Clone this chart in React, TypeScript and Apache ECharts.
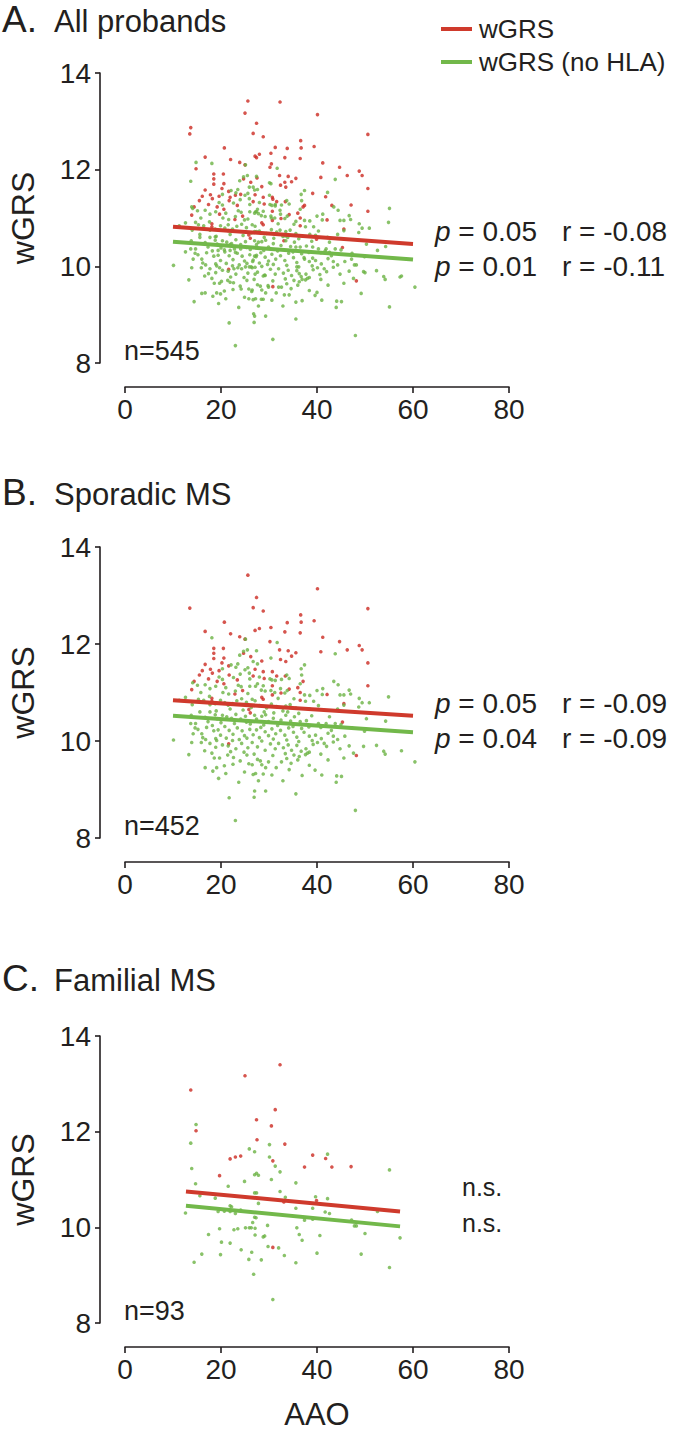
import React, { useEffect, useRef } from "react";
import * as echarts from "echarts";

// ---------- DATA ----------
const panelTitles = ["All probands", "Sporadic MS", "Familial MS"];
const panelLetters = ["A.", "B.", "C."];
const panelN = ["n=545", "n=452", "n=93"];
const seriesNames = ["wGRS", "wGRS (no HLA)"];
const xTicks = [0, 20, 40, 60, 80];
const yTicks = [8, 10, 12, 14];
const statsA = [["0.05", "-0.08"], ["0.01", "-0.11"]];
const statsB = [["0.05", "-0.09"], ["0.04", "-0.09"]];

// Sporadic MS probands: visible wGRS (red) and wGRS no-HLA (green) points [AAO, score]
const sporadicRed: number[][] = [
  [25.6, 13.42], [40.1, 13.14], [13.5, 12.74], [27.4, 12.96], [26.7, 12.75], [28.8, 12.68], [50.6, 12.73],
  [36.6, 12.6], [36.7, 12.45], [39.4, 12.48], [20.7, 12.45], [33.8, 12.44], [30.4, 12.34], [27.1, 12.28],
  [28.0, 12.32], [16.7, 12.26], [22.0, 12.21], [23.9, 12.15], [25.0, 12.1], [33.3, 12.25], [36.5, 12.23],
  [41.2, 12.14], [44.7, 12.05], [30.2, 12.05], [46.3, 11.88], [48.8, 11.97], [49.4, 11.88], [40.8, 11.84],
  [50.6, 11.61], [50.6, 11.14], [18.5, 11.91], [20.5, 11.91], [18.5, 11.81], [18.5, 11.7], [20.6, 11.71],
  [24.7, 11.81], [26.2, 11.74], [28.5, 11.65], [32.2, 11.88], [34.0, 11.86], [35.6, 11.82], [32.4, 11.68],
  [33.5, 11.64], [34.7, 11.75], [20.2, 11.61], [16.7, 11.58], [16.1, 11.45], [15.5, 11.36], [17.8, 11.48],
  [18.2, 11.4], [19.6, 11.45], [21.6, 11.55], [21.7, 11.36], [23.4, 11.26], [14.4, 11.23], [13.9, 11.06],
  [17.4, 11.28], [19.2, 11.23], [20.6, 11.18], [26.7, 11.34], [27.1, 11.48], [28.8, 11.43], [30.7, 11.43],
  [29.0, 11.29], [30.7, 11.14], [31.6, 11.34], [33.4, 11.34], [34.2, 11.07], [36.0, 11.1], [37.1, 11.23],
  [36.5, 11.0], [36.5, 10.84], [28.5, 10.9], [28.8, 10.86], [30.7, 10.95], [32.5, 10.99], [24.5, 11.04],
  [22.9, 10.97], [18.1, 10.88], [18.1, 10.82], [25.8, 10.65], [26.1, 10.58], [42.1, 10.96], [45.6, 10.77],
  [45.3, 10.39], [21.6, 9.94], [48.2, 9.7],
];

const sporadicGreen: number[][] = [
  [18.1, 12.13], [25.1, 12.1], [31.7, 12.03], [43.8, 11.8], [25.5, 11.88], [24.7, 11.85], [27.4, 11.86],
  [23.9, 11.77], [23.5, 11.59], [26.7, 11.64], [27.6, 11.59], [30.4, 11.71], [36.7, 11.49], [37.4, 11.57],
  [23.1, 11.52], [25.0, 11.47], [25.6, 11.51], [25.9, 11.4], [20.3, 11.49], [22.1, 11.57], [19.6, 11.32],
  [20.3, 11.27], [22.6, 11.31], [24.0, 11.38], [26.0, 11.28], [28.0, 11.32], [30.2, 11.28], [30.6, 11.26],
  [31.3, 11.25], [32.6, 11.27], [33.7, 11.36], [34.2, 11.29], [36.8, 11.36], [36.5, 11.18], [16.7, 11.16],
  [14.1, 11.2], [15.1, 11.15], [17.7, 11.08], [18.9, 11.13], [21.0, 11.1], [21.6, 10.97], [23.6, 11.15],
  [24.2, 11.12], [26.0, 11.13], [27.2, 11.13], [27.6, 11.18], [28.8, 11.14], [29.2, 11.03], [30.4, 11.04],
  [31.2, 11.0], [32.4, 11.08], [33.3, 10.99], [33.8, 11.04], [37.4, 10.95], [38.5, 10.94], [40.0, 11.04],
  [41.2, 11.08], [41.1, 10.96], [43.5, 11.23], [44.4, 11.16], [44.8, 10.95], [45.6, 10.95], [46.7, 11.05],
  [47.0, 10.97], [48.8, 10.88], [49.4, 10.79], [50.9, 10.79], [54.9, 10.91], [54.3, 10.41], [48.7, 10.7],
  [50.3, 10.46], [45.6, 10.74], [44.3, 10.66], [40.3, 10.73], [38.5, 10.66], [37.6, 10.82], [35.6, 10.68],
  [34.4, 10.75], [33.5, 10.72], [32.9, 10.62], [31.6, 10.71], [30.5, 10.76], [29.5, 10.68], [28.0, 10.73],
  [27.1, 10.83], [26.5, 10.86], [25.3, 10.8], [24.3, 10.87], [23.3, 10.83], [22.4, 10.77], [21.5, 10.74],
  [20.8, 10.79], [19.9, 10.84], [18.8, 10.77], [17.6, 10.92], [17.7, 10.75], [16.4, 10.84], [15.3, 10.86],
  [14.0, 10.75], [12.6, 10.9], [11.3, 10.84], [13.8, 10.53], [13.7, 10.36], [14.6, 10.27], [15.6, 10.6],
  [16.7, 10.49], [17.7, 10.6], [18.8, 10.54], [19.2, 10.46], [20.3, 10.53], [21.2, 10.5], [22.2, 10.47],
  [23.1, 10.55], [24.1, 10.45], [25.1, 10.51], [25.3, 10.39], [27.0, 10.53], [27.4, 10.45], [28.5, 10.51],
  [29.3, 10.54], [29.9, 10.4], [30.9, 10.47], [32.5, 10.43], [33.5, 10.53], [34.5, 10.41], [35.3, 10.5],
  [36.5, 10.4], [37.8, 10.42], [40.3, 10.36], [40.8, 10.28], [41.9, 10.36], [43.8, 10.36], [45.0, 10.34],
  [49.9, 10.2], [14.7, 10.36], [15.2, 10.24], [16.0, 10.15], [17.0, 10.28], [18.2, 10.32], [18.5, 10.21],
  [19.4, 10.23], [19.9, 10.12], [20.8, 10.3], [21.7, 10.22], [22.5, 10.14], [23.4, 10.27], [24.4, 10.21],
  [24.9, 10.11], [26.0, 10.24], [26.7, 10.13], [27.4, 10.23], [28.3, 10.28], [29.2, 10.19], [29.9, 10.11],
  [30.6, 10.25], [31.4, 10.15], [32.4, 10.22], [33.3, 10.12], [34.1, 10.27], [35.1, 10.18], [35.8, 10.08],
  [36.8, 10.26], [37.3, 10.18], [38.4, 10.1], [39.7, 10.12], [40.9, 10.05], [42.3, 10.16], [43.4, 10.1],
  [45.8, 10.1], [14.2, 10.15], [13.9, 9.97], [15.9, 9.97], [16.8, 10.03], [17.7, 9.95], [19.1, 10.01],
  [20.3, 9.92], [21.5, 9.9], [22.4, 10.01], [23.1, 9.84], [24.3, 9.95], [25.6, 9.86], [26.5, 9.97],
  [27.6, 9.88], [28.5, 10.0], [29.2, 9.81], [30.3, 9.94], [31.3, 9.84], [32.0, 9.95], [33.0, 9.86],
  [34.0, 9.92], [34.7, 9.81], [35.8, 9.91], [36.7, 9.79], [37.7, 9.84], [38.4, 9.77], [39.2, 9.93],
  [40.1, 9.97], [42.0, 9.89], [43.4, 9.98], [44.3, 10.03], [46.7, 9.9], [47.6, 9.75], [49.7, 9.89],
  [52.4, 9.91], [53.9, 9.79], [54.2, 9.73], [57.6, 9.8], [60.4, 9.57], [10.1, 10.02], [13.3, 9.72],
  [16.6, 9.8], [18.1, 9.75], [18.6, 9.65], [19.7, 9.65], [21.4, 9.71], [22.6, 9.66], [24.0, 9.59],
  [25.4, 9.71], [25.8, 9.53], [26.5, 9.51], [27.6, 9.62], [28.2, 9.59], [28.5, 9.51], [29.9, 9.57],
  [31.5, 9.45], [32.6, 9.57], [33.7, 9.64], [34.2, 9.41], [35.2, 9.71], [36.0, 9.61], [37.6, 9.72],
  [38.0, 9.75], [39.6, 9.4], [42.3, 9.61], [45.6, 9.65], [16.7, 9.45], [18.3, 9.38], [19.1, 9.45],
  [20.7, 9.49], [19.5, 9.23], [23.7, 9.15], [26.7, 9.31], [27.2, 9.33], [28.8, 9.32], [29.3, 9.45],
  [34.6, 9.54], [36.9, 9.29], [44.1, 9.28], [45.1, 9.27], [44.0, 9.15], [21.7, 8.83], [27.0, 8.97],
  [29.3, 8.97], [35.6, 8.91], [23.0, 8.36], [48.0, 8.57], [26.9, 8.84],
  // denser core of the cloud
  [19.0, 10.62], [21.9, 10.66], [24.6, 10.64], [26.3, 10.69], [29.0, 10.6], [31.0, 10.58], [33.9, 10.6],
  [36.2, 10.57], [38.9, 10.52], [42.6, 10.5], [17.3, 10.4], [20.0, 10.38], [22.8, 10.36], [26.1, 10.35],
  [28.9, 10.33], [31.8, 10.32], [35.0, 10.3], [38.3, 10.29], [43.0, 10.22], [47.3, 10.27], [16.2, 10.07],
  [18.9, 10.05], [21.1, 10.06], [23.8, 10.03], [25.4, 10.06], [28.0, 10.07], [30.9, 10.04], [33.7, 10.02],
  [36.2, 9.99], [39.0, 10.01], [41.5, 9.95], [18.9, 9.87], [22.0, 9.78], [24.8, 9.77], [26.9, 9.73],
  [30.8, 9.7], [33.4, 9.74], [36.3, 9.68], [40.8, 9.73], [44.8, 9.84], [20.4, 11.0], [23.0, 11.03],
  [25.6, 10.98], [28.4, 11.05], [31.9, 10.88], [35.2, 10.87], [39.3, 10.82], [15.8, 11.0], [22.5, 9.52],
  [24.9, 9.36], [30.6, 9.3], [32.9, 9.18], [21.0, 9.33], [38.4, 9.5], [41.0, 9.3], [27.8, 9.18],
];

// Familial MS probands
const familialRed: number[][] = [
  [13.7, 12.87], [25.0, 13.17], [32.3, 13.4], [31.3, 12.46], [27.4, 12.25], [30.5, 12.12], [14.8, 12.02],
  [27.5, 11.83], [33.3, 11.74], [19.7, 11.08], [21.9, 11.43], [23.0, 11.47], [24.1, 11.49], [30.8, 11.39],
  [37.4, 11.26], [39.1, 11.51], [41.8, 11.44], [43.1, 11.26], [47.1, 11.27], [33.1, 10.53], [39.9, 10.56],
  [30.8, 9.58],
];

const familialGreen: number[][] = [
  [14.8, 12.15], [13.7, 11.76], [13.9, 11.23], [14.7, 10.91], [12.6, 10.3], [15.6, 10.66], [18.8, 10.61],
  [21.5, 10.86], [25.9, 11.64], [27.0, 11.58], [30.1, 11.73], [30.1, 11.47], [31.3, 11.28], [32.3, 11.16],
  [27.0, 11.1], [27.4, 11.13], [27.8, 11.09], [24.9, 10.96], [30.5, 11.0], [35.6, 10.93], [42.2, 11.53],
  [55.1, 11.2], [27.0, 10.72], [27.4, 10.72], [32.3, 10.75], [27.8, 10.5], [33.4, 10.63], [39.7, 10.64],
  [42.2, 10.6], [35.6, 10.4], [39.1, 10.4], [41.7, 10.32], [42.6, 10.29], [52.6, 10.33], [21.9, 10.45],
  [22.2, 10.43], [19.4, 10.33], [20.7, 10.34], [21.9, 10.33], [23.0, 10.29], [24.1, 10.36], [37.4, 10.15],
  [39.1, 10.17], [47.2, 10.15], [47.8, 10.03], [48.2, 10.03], [27.0, 10.21], [26.6, 10.1], [26.3, 9.99],
  [27.3, 10.2], [29.7, 10.04], [25.1, 9.99], [25.9, 9.99], [27.1, 9.98], [23.5, 9.97], [22.7, 9.95],
  [19.7, 9.97], [17.4, 9.85], [27.1, 9.84], [28.8, 9.8], [29.1, 9.82], [35.8, 9.99], [36.3, 9.85],
  [36.9, 9.73], [40.6, 9.83], [50.0, 9.87], [57.3, 9.78], [20.1, 9.69], [21.9, 9.67], [24.2, 9.53],
  [26.4, 9.48], [29.8, 9.6], [32.0, 9.57], [16.0, 9.44], [19.9, 9.43], [25.8, 9.33], [28.4, 9.32],
  [33.2, 9.41], [35.6, 9.26], [40.0, 9.46], [49.2, 9.44], [14.4, 9.27], [26.8, 9.02], [55.1, 9.16],
  [30.8, 8.49],
];

// All probands = sporadic + familial
const allRed = sporadicRed.concat(familialRed);
const allGreen = sporadicGreen.concat(familialGreen);

// Regression lines [AAO, score] at the ends
const fitRedA = [[10, 10.82], [60, 10.46]];
const fitGreenA = [[10, 10.51], [60, 10.14]];
const fitRedB = [[10, 10.84], [60, 10.52]];
const fitGreenB = [[10, 10.52], [60, 10.18]];
const fitRedC = [[12.7, 10.75], [57.3, 10.33]];
const fitGreenC = [[12.7, 10.45], [57.3, 10.02]];

// ---------- STYLE / LAYOUT ----------
const FONT = '"Liberation Sans", Arial, Helvetica, sans-serif';
const INK = "#231f20";
const RED = "#cc2b22";
const GREEN = "#6cb343";
const LINE_RED = "#cf3a2c";
const LINE_GREEN = "#72b84a";

const W = 680;
const H = 1437;
const grids = [
  { left: 125, top: 73, width: 384, height: 290 },
  { left: 125, top: 547, width: 384, height: 291 },
  { left: 125, top: 1036, width: 384, height: 287 },
];

export default function App() {
  const ref = useRef<HTMLDivElement>(null);

  useEffect(() => {
    document.body.style.margin = "0";
    if (!ref.current) return;
    const chart = echarts.init(ref.current, null, { renderer: "svg" });

    const panels = [
      { red: allRed, green: allGreen, fitR: fitRedA, fitG: fitGreenA },
      { red: sporadicRed, green: sporadicGreen, fitR: fitRedB, fitG: fitGreenB },
      { red: familialRed, green: familialGreen, fitR: fitRedC, fitG: fitGreenC },
    ];

    const xAxes = grids.map((_, i) => ({
      type: "value",
      gridIndex: i,
      min: xTicks[0],
      max: xTicks[xTicks.length - 1],
      interval: xTicks[1] - xTicks[0],
      offset: 24,
      name: i === 2 ? "AAO" : "",
      nameLocation: "middle",
      nameGap: 52,
      nameTextStyle: { fontSize: 31, color: INK, fontFamily: FONT },
      axisLine: { show: true, onZero: false, lineStyle: { color: INK, width: 1.6 } },
      axisTick: { show: true, length: 6, lineStyle: { color: INK, width: 1.6 } },
      axisLabel: { fontSize: 28, color: INK, fontFamily: FONT, margin: 8 },
      splitLine: { show: false },
    }));

    const yAxes = grids.map((_, i) => ({
      type: "value",
      gridIndex: i,
      min: yTicks[0],
      max: yTicks[yTicks.length - 1],
      interval: yTicks[1] - yTicks[0],
      offset: 25,
      name: "wGRS",
      nameLocation: "middle",
      nameRotate: 90,
      nameGap: 61,
      nameTextStyle: { fontSize: 32, color: INK, fontFamily: FONT },
      axisLine: { show: true, onZero: false, lineStyle: { color: INK, width: 1.6 } },
      axisTick: { show: true, length: 5, lineStyle: { color: INK, width: 1.6 } },
      axisLabel: { fontSize: 28, color: INK, fontFamily: FONT, margin: 9 },
      splitLine: { show: false },
    }));

    const series: any[] = [];
    panels.forEach((p, i) => {
      series.push({
        type: "scatter", name: "wGRS points", xAxisIndex: i, yAxisIndex: i,
        data: p.red, symbolSize: 3.6, itemStyle: { color: RED }, z: 2, silent: true,
      });
      series.push({
        type: "scatter", name: "wGRS (no HLA) points", xAxisIndex: i, yAxisIndex: i,
        data: p.green, symbolSize: 3.6, itemStyle: { color: GREEN }, z: 3, silent: true,
      });
      series.push({
        type: "line", name: seriesNames[1], xAxisIndex: i, yAxisIndex: i,
        data: p.fitG, showSymbol: false, symbol: "none",
        lineStyle: { color: LINE_GREEN, width: 4 }, itemStyle: { color: LINE_GREEN }, z: 4, silent: true,
      });
      series.push({
        type: "line", name: seriesNames[0], xAxisIndex: i, yAxisIndex: i,
        data: p.fitR, showSymbol: false, symbol: "none",
        lineStyle: { color: LINE_RED, width: 4 }, itemStyle: { color: LINE_RED }, z: 5, silent: true,
      });
    });

    const graphics: any[] = [];
    const titleY = [19, 492, 978];
    panelLetters.forEach((l, i) => {
      graphics.push({
        type: "text", x: 2, y: titleY[i],
        style: { text: l, font: `37px ${FONT}`, fill: INK, verticalAlign: "middle" },
      });
      graphics.push({
        type: "text", x: 54, y: titleY[i] + 2,
        style: { text: panelTitles[i], font: `31px ${FONT}`, fill: INK, verticalAlign: "middle" },
      });
      graphics.push({
        type: "text", x: 124, y: grids[i].top + grids[i].height - 12,
        style: { text: panelN[i], font: `27px ${FONT}`, fill: INK, verticalAlign: "middle" },
      });
    });

    const statRows = [
      { stats: statsA, y: [231, 266] },
      { stats: statsB, y: [703, 738] },
    ];
    statRows.forEach((row) => {
      row.stats.forEach((s, k) => {
        graphics.push({
          type: "text", x: 435, y: row.y[k],
          style: {
            text: `{i|p} = ${s[0]}`,
            font: `28px ${FONT}`, fill: INK, verticalAlign: "middle",
            rich: { i: { fontStyle: "italic", fontSize: 28, fontFamily: FONT, fill: INK } },
          },
        });
        graphics.push({
          type: "text", x: 562, y: row.y[k],
          style: { text: `r = ${s[1]}`, font: `28px ${FONT}`, fill: INK, verticalAlign: "middle" },
        });
      });
    });
    [1187, 1223].forEach((yy) => {
      graphics.push({
        type: "text", x: 462, y: yy,
        style: { text: "n.s.", font: `25px ${FONT}`, fill: INK, verticalAlign: "middle" },
      });
    });

    chart.setOption({
      animation: false,
      backgroundColor: "#ffffff",
      textStyle: { fontFamily: FONT },
      grid: grids.map((g) => ({ ...g, containLabel: false, outerBoundsMode: "none" })),
      xAxis: xAxes,
      yAxis: yAxes,
      legend: {
        data: [
          { name: seriesNames[0], icon: "rect" },
          { name: seriesNames[1], icon: "rect" },
        ],
        orient: "vertical",
        left: 436,
        top: 11,
        itemWidth: 31,
        itemHeight: 4,
        itemGap: 7,
        selectedMode: false,
        textStyle: { fontSize: 26, color: INK, fontFamily: FONT, padding: [0, 0, 0, 2] },
      },
      series,
      graphic: graphics,
    });

    return () => chart.dispose();
  }, []);

  return <div ref={ref} style={{ width: W, height: H }} />;
}
